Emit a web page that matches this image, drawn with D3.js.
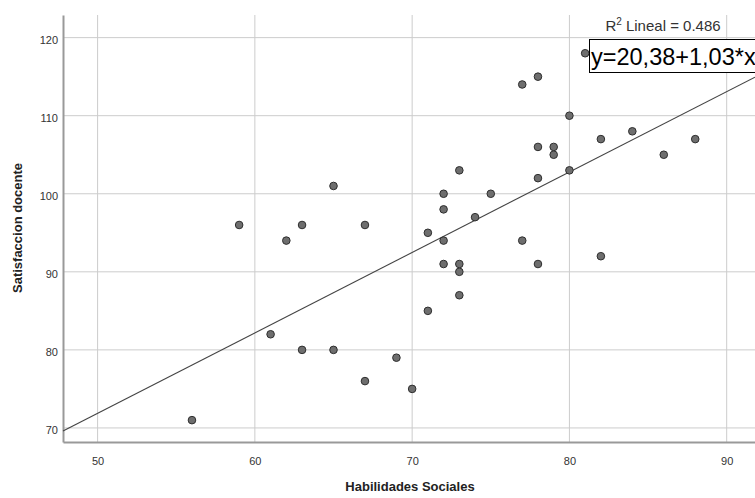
<html>
  <head>
    <script src="https://cdn.jsdelivr.net/npm/d3@7"></script>
    <style>
      body { margin: 0; background: #fff; }
      text { font-family: "Liberation Sans", Arial, sans-serif; }
    </style>
  </head>
  <body>
    <div id="container"></div>
    <script>
      // Habilidades Sociales (x) vs Satisfaccion docente (y)
      const habilidades = [56, 59, 61, 62, 63, 63, 65, 65, 67, 67, 69, 70, 71, 71, 72, 72, 72, 72,
        73, 73, 73, 73, 74, 75, 77, 77, 78, 78, 78, 78, 79, 79, 80, 80, 81, 82, 82, 84, 86, 88];
      const satisfaccion = [71, 96, 82, 94, 96, 80, 101, 80, 96, 76, 79, 75, 95, 85, 100, 98, 94, 91,
        103, 91, 90, 87, 97, 100, 114, 94, 115, 106, 102, 91, 106, 105, 110, 103, 118, 107, 92, 108, 105, 107];
      const xTicks = [50, 60, 70, 80, 90];
      const yTicks = [70, 80, 90, 100, 110, 120];
      const intercept = 20.38;
      const slope = 1.03;
      const r2Label = "0.486";
      const eqLabel = "y=20,38+1,03*x";

      const w = 755;
      const h = 498;

      const svg = d3.select("#container").append("svg")
        .attr("width", w).attr("height", h);

      const plotLeft = 63, plotRight = 755, plotTop = 15, plotBottom = 442;

      const x = d3.scaleLinear().domain([47.8, 91.8]).range([plotLeft, plotRight]);
      const y = d3.scaleLinear().domain([68.2, 122.9]).range([plotBottom, plotTop]);

      // gridlines
      svg.selectAll(".vgrid").data(xTicks).enter().append("line")
        .attr("x1", d => x(d)).attr("x2", d => x(d))
        .attr("y1", plotTop).attr("y2", plotBottom)
        .attr("stroke", "#cccccc").attr("stroke-width", 1);
      svg.selectAll(".hgrid").data(yTicks).enter().append("line")
        .attr("x1", plotLeft).attr("x2", plotRight)
        .attr("y1", d => y(d)).attr("y2", d => y(d))
        .attr("stroke", "#cccccc").attr("stroke-width", 1);

      // axes
      const xAxis = svg.append("g").attr("transform", `translate(0,${plotBottom})`)
        .call(d3.axisBottom(x).tickValues(xTicks).tickSize(0).tickPadding(15));
      const yAxis = svg.append("g").attr("transform", `translate(${plotLeft},0)`)
        .call(d3.axisLeft(y).tickValues(yTicks).tickSize(0).tickPadding(5));
      [xAxis, yAxis].forEach(a => {
        a.select(".domain").attr("stroke", "#999").attr("stroke-width", 2);
        a.selectAll("text").attr("fill", "#333").style("font-size", "11px");
      });
      yAxis.selectAll("text").attr("dy", "0.5em");

      // regression line
      const xd = x.domain();
      svg.append("line")
        .attr("x1", x(xd[0])).attr("y1", y(intercept + slope * xd[0]))
        .attr("x2", x(xd[1])).attr("y2", y(intercept + slope * xd[1]))
        .attr("stroke", "#444").attr("stroke-width", 1.1);

      // points
      svg.selectAll("circle").data(habilidades).enter().append("circle")
        .attr("cx", d => x(d))
        .attr("cy", (d, i) => y(satisfaccion[i]))
        .attr("r", 3.8)
        .attr("fill", "#6e6e6e")
        .attr("stroke", "#2e2e2e")
        .attr("stroke-width", 1);

      // R2 label
      const r2 = svg.append("text")
        .attr("x", 663).attr("y", 31)
        .attr("text-anchor", "middle")
        .attr("fill", "#333")
        .style("font-size", "15px");
      r2.append("tspan").text("R");
      r2.append("tspan").attr("dy", -6).style("font-size", "10px").text("2");
      r2.append("tspan").attr("dy", 6).text(" Lineal = " + r2Label);

      // equation box
      svg.append("rect")
        .attr("x", 589.5).attr("y", 39.5).attr("width", 200).attr("height", 33)
        .attr("fill", "#fff").attr("stroke", "#000").attr("stroke-width", 1);
      svg.append("text")
        .attr("x", 591).attr("y", 64.5)
        .attr("fill", "#000")
        .style("font-size", "23.5px")
        .text(eqLabel);

      // axis titles
      svg.append("text")
        .attr("x", (plotLeft + 755) / 2 + 1).attr("y", 491)
        .attr("text-anchor", "middle")
        .style("font-size", "13px").style("font-weight", "bold")
        .attr("fill", "#222")
        .text("Habilidades Sociales");
      svg.append("text")
        .attr("transform", "translate(22,228) rotate(-90)")
        .attr("text-anchor", "middle")
        .style("font-size", "13px").style("font-weight", "bold")
        .attr("fill", "#222")
        .text("Satisfaccion docente");
    </script>
  </body>
</html>
